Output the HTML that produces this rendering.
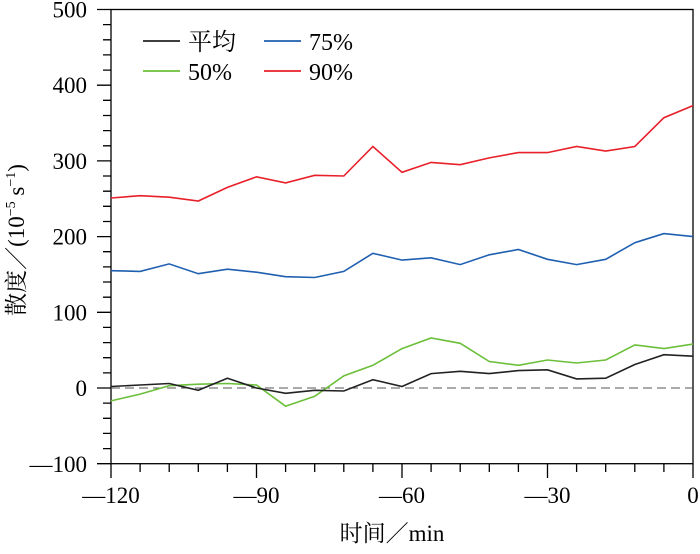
<!DOCTYPE html>
<html><head><meta charset="utf-8"><style>
html,body{margin:0;padding:0;background:#fff;}
svg text{font-family:"Liberation Serif","Noto Serif CJK SC",serif;fill:#000;}
</style></head><body>
<svg width="700" height="549" viewBox="0 0 700 549" xmlns="http://www.w3.org/2000/svg">
<g stroke="#000" stroke-width="1.3" fill="none">
<rect x="111" y="9.5" width="582" height="454.2"/>
<path d="M97 463.7H111M97 388H111M97 312.3H111M97 236.6H111M97 160.9H111M97 85.2H111M97 9.5H111
M103 448.6H111M103 433.4H111M103 418.3H111M103 403.1H111M103 372.9H111M103 357.7H111M103 342.6H111M103 327.4H111
M103 297.2H111M103 282H111M103 266.9H111M103 251.7H111M103 221.5H111M103 206.3H111M103 191.2H111M103 176H111
M103 145.8H111M103 130.6H111M103 115.5H111M103 100.3H111M103 70.1H111M103 54.9H111M103 39.8H111M103 24.6H111"/>
<path d="M111 463.7V478M256.5 463.7V478M402 463.7V478M547.5 463.7V478M693 463.7V478
M140.1 463.7V472M169.2 463.7V472M198.3 463.7V472M227.4 463.7V472M285.6 463.7V472M314.7 463.7V472M343.8 463.7V472M372.9 463.7V472
M431.1 463.7V472M460.2 463.7V472M489.3 463.7V472M518.4 463.7V472M576.6 463.7V472M605.7 463.7V472M634.8 463.7V472M663.9 463.7V472"/>
<line x1="111" y1="388" x2="693" y2="388" stroke="#555" stroke-width="1.1" stroke-dasharray="9,5"/>
</g>
<g fill="none" stroke-width="1.6">
<polyline stroke="#e8202a" points="111,198 140.1,195.7 169.2,197.2 198.3,201 227.4,187.4 256.5,176.8 285.6,182.9 314.7,175.3 343.8,176 372.9,146.5 402,172.3 431.1,162.4 460.2,164.7 489.3,157.9 518.4,152.6 547.5,152.6 576.6,146.5 605.7,151.1 634.8,146.5 663.9,117.7 693,105.6"/>
<polyline stroke="#1f5fb0" points="111,270.7 140.1,271.4 169.2,263.9 198.3,273.7 227.4,269.2 256.5,272.2 285.6,276.7 314.7,277.5 343.8,271.4 372.9,253.3 402,260.1 431.1,257.8 460.2,264.6 489.3,254.8 518.4,249.5 547.5,259.3 576.6,264.6 605.7,259.3 634.8,242.7 663.9,233.6 693,236.6"/>
<polyline stroke="#6cbf3a" points="111,400.9 140.1,394.1 169.2,385.7 198.3,384.2 227.4,383.5 256.5,385 285.6,406.2 314.7,396.3 343.8,375.9 372.9,365.3 402,348.6 431.1,338 460.2,343.3 489.3,361.5 518.4,365.3 547.5,360 576.6,363 605.7,360 634.8,344.9 663.9,348.6 693,344.1"/>
<polyline stroke="#222" points="111,386.5 140.1,385 169.2,383.5 198.3,390.3 227.4,378.2 256.5,388 285.6,393.3 314.7,390.3 343.8,391 372.9,379.7 402,386.5 431.1,373.6 460.2,371.3 489.3,373.6 518.4,370.6 547.5,369.8 576.6,378.9 605.7,378.2 634.8,364.5 663.9,354.7 693,356.2"/>
</g>
<g font-size="23" text-anchor="end">
<text x="87" y="472">—100</text>
<text x="87" y="396">0</text>
<text x="87" y="320.3">100</text>
<text x="87" y="244.6">200</text>
<text x="87" y="168.9">300</text>
<text x="87" y="93.2">400</text>
<text x="87" y="17.5">500</text>
</g>
<g font-size="23" text-anchor="middle">
<text x="111" y="503">—120</text>
<text x="256.5" y="503">—90</text>
<text x="402" y="503">—60</text>
<text x="547.5" y="503">—30</text>
<text x="693" y="503">0</text>
</g>
<text x="392" y="541" font-size="23" text-anchor="middle">时间／min</text>
<text transform="translate(24,240) rotate(-90)" font-size="23" text-anchor="middle">散度／(10<tspan font-size="14" dy="-9">−5</tspan><tspan dy="9"> s</tspan><tspan font-size="14" dy="-9">−1</tspan><tspan dy="9">)</tspan></text>
<g stroke-width="1.8">
<line x1="143" y1="41" x2="180" y2="41" stroke="#222"/>
<line x1="143" y1="71" x2="180" y2="71" stroke="#6cbf3a"/>
<line x1="264" y1="41" x2="301" y2="41" stroke="#1f5fb0"/>
<line x1="264" y1="71" x2="301" y2="71" stroke="#e8202a"/>
</g>
<text x="188" y="50" font-size="24">平均</text>
<text x="188" y="80" font-size="24">50%</text>
<text x="309" y="50" font-size="24">75%</text>
<text x="309" y="80" font-size="24">90%</text>
</svg>
</body></html>
